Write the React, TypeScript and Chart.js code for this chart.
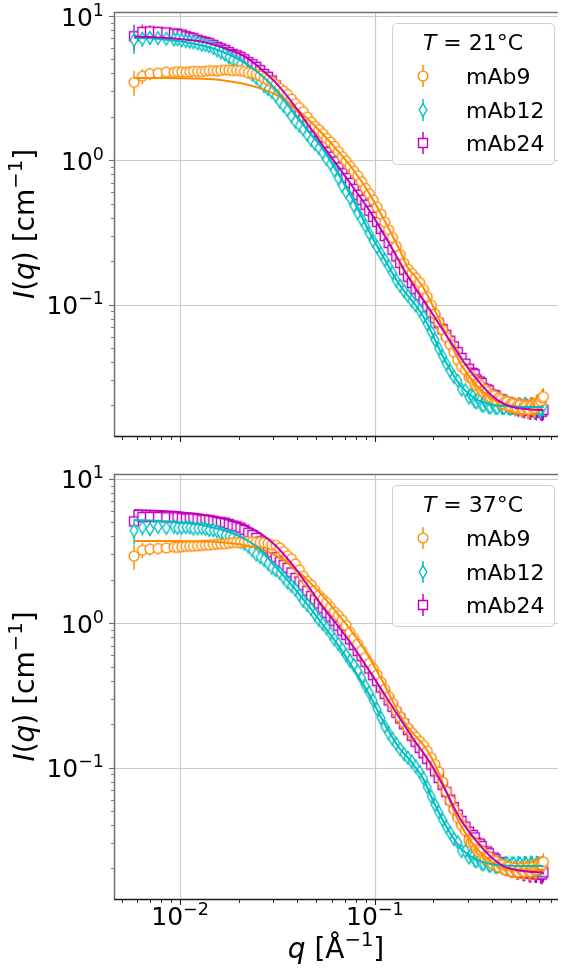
import React, { useEffect, useRef } from 'react';
import { Chart, registerables } from 'chart.js';

Chart.register(...registerables);

// ---------------- data ----------------
// main q grid (A) and interleaved overlap points (B)
const Q = [
  0.0058, 0.0064, 0.007, 0.0077, 0.0085, 0.0093, 0.0102, 0.0112, 0.0123, 0.0135,
  0.0148, 0.0162, 0.0178, 0.0195, 0.0214, 0.0235, 0.0258, 0.0283, 0.031, 0.034,
  0.0373, 0.041, 0.045, 0.0493, 0.054, 0.0592, 0.065, 0.0713, 0.078, 0.0855,
  0.0937, 0.1027, 0.1075, 0.1125, 0.1178, 0.1233, 0.129, 0.135, 0.1413, 0.148,
  0.155, 0.162, 0.17, 0.178, 0.186, 0.195, 0.204, 0.213, 0.223, 0.233,
  0.244, 0.255, 0.267, 0.279, 0.292, 0.305, 0.319, 0.333, 0.347, 0.362,
  0.377, 0.393, 0.409, 0.426, 0.443, 0.461, 0.479, 0.498, 0.517, 0.537,
  0.557, 0.578, 0.599, 0.621, 0.643, 0.666, 0.689, 0.712, 0.735,
];
const Q_B = [
  0.0097, 0.0107, 0.0117, 0.0129, 0.0141, 0.0155, 0.017, 0.0186, 0.0204, 0.0224,
  0.0246, 0.027, 0.0296, 0.0325, 0.0356, 0.0391, 0.0429, 0.0471, 0.0516, 0.0565,
  0.062, 0.0681, 0.0746, 0.0817, 0.0895, 0.0981,
  0.312, 0.326, 0.34, 0.354, 0.369, 0.385, 0.401, 0.417, 0.434, 0.452,
  0.47, 0.488, 0.507, 0.527, 0.547, 0.567, 0.588, 0.61, 0.632, 0.654,
  0.677, 0.70, 0.723,
];

// relative uncertainty of each point
const ERR = [
  0.2, 0.12, 0.1, 0.09, 0.08, 0.07, 0.065, 0.06, 0.055, 0.05,
  0.045, 0.04, 0.035, 0.03, 0.03, 0.025, 0.025, 0.02, 0.02, 0.02,
  0.02, 0.02, 0.02, 0.02, 0.02, 0.02, 0.02, 0.02, 0.02, 0.02,
  0.02, 0.02, 0.02, 0.02, 0.02, 0.02, 0.02, 0.02, 0.02, 0.02,
  0.02, 0.02, 0.02, 0.02, 0.02, 0.02, 0.02, 0.02, 0.02, 0.02,
  0.02, 0.025, 0.03, 0.035, 0.04, 0.045, 0.05, 0.055, 0.06, 0.065,
  0.07, 0.075, 0.08, 0.085, 0.09, 0.095, 0.1, 0.105, 0.11, 0.115,
  0.12, 0.125, 0.13, 0.135, 0.14, 0.14, 0.14, 0.14, 0.15,
];
const ERR_B = [
  0.05, 0.045, 0.04, 0.035, 0.03, 0.03, 0.025, 0.025, 0.02, 0.02,
  0.02, 0.02, 0.02, 0.02, 0.02, 0.02, 0.02, 0.02, 0.02, 0.02,
  0.02, 0.02, 0.02, 0.02, 0.02, 0.02,
  0.048, 0.053, 0.058, 0.063, 0.068, 0.073, 0.078, 0.083, 0.088, 0.093,
  0.098, 0.103, 0.108, 0.113, 0.118, 0.123, 0.128, 0.133, 0.138, 0.14,
  0.14, 0.14, 0.145,
];

// ----- T = 21 C -----
const TOP_MAB9 = [
  3.47, 3.83, 3.98, 4.02, 4.09, 4.07, 4.10, 4.11, 4.13, 4.15,
  4.18, 4.20, 4.22, 4.20, 4.13, 4.01, 3.84, 3.60, 3.34, 3.01,
  2.66, 2.32, 1.99, 1.72, 1.53, 1.34, 1.15, 0.986, 0.84, 0.71,
  0.585, 0.474, 0.423, 0.373, 0.330, 0.291, 0.253, 0.222, 0.193, 0.176,
  0.164, 0.153, 0.142, 0.127, 0.1135, 0.0989, 0.0859, 0.0757, 0.0668, 0.0594,
  0.0528, 0.0468, 0.0413, 0.0372, 0.0352, 0.0314, 0.0302, 0.0276, 0.0275, 0.0248,
  0.0249, 0.0228, 0.0233, 0.0214, 0.0220, 0.0205, 0.0212, 0.0198, 0.0205, 0.0192,
  0.0201, 0.0189, 0.0198, 0.0188, 0.0198, 0.0193, 0.0208, 0.0214, 0.0230,
];
const TOP_MAB9_B = [
  4.12, 4.08, 4.15, 4.12, 4.19, 4.17, 4.24, 4.19, 4.19, 4.05,
  3.95, 3.70, 3.50, 3.15, 2.86, 2.47, 2.17, 1.84, 1.63, 1.42,
  1.25, 1.06, 0.91, 0.78, 0.64, 0.53,
  0.0318, 0.0280, 0.0285, 0.0252, 0.0258, 0.0230, 0.0238, 0.0216, 0.0225, 0.0204,
  0.0215, 0.0197, 0.0208, 0.0191, 0.0203, 0.0187, 0.0200, 0.0186, 0.0201, 0.0190,
  0.0209, 0.0205, 0.0226,
];
const TOP_MAB12 = [
  6.82, 6.95, 7.05, 7.02, 6.97, 6.89, 6.79, 6.64, 6.46, 6.28,
  6.01, 5.61, 5.19, 4.84, 4.43, 3.93, 3.48, 3.12, 2.79, 2.39,
  2.02, 1.74, 1.50, 1.30, 1.13, 0.944, 0.752, 0.603, 0.485, 0.389,
  0.311, 0.251, 0.226, 0.204, 0.184, 0.166, 0.147, 0.135, 0.124, 0.115,
  0.106, 0.0989, 0.0912, 0.0822, 0.0733, 0.0646, 0.0569, 0.0495, 0.0437, 0.0389,
  0.0347, 0.0316, 0.0297, 0.0258, 0.0255, 0.0227, 0.0231, 0.0210, 0.0216, 0.0199,
  0.0208, 0.0194, 0.0205, 0.0192, 0.0204, 0.0192, 0.0204, 0.0191, 0.0203, 0.0191,
  0.0203, 0.0190, 0.0202, 0.0190, 0.0201, 0.0189, 0.0200, 0.0189, 0.0199,
];
const TOP_MAB12_B = [
  6.90, 6.70, 6.58, 6.33, 6.18, 5.78, 5.43, 4.98, 4.66, 4.14,
  3.73, 3.27, 2.98, 2.55, 2.23, 1.85, 1.64, 1.38, 1.22, 1.02,
  0.85, 0.665, 0.548, 0.43, 0.352, 0.276,
  0.0236, 0.0213, 0.0222, 0.0201, 0.0212, 0.0195, 0.0208, 0.0193, 0.0206, 0.0192,
  0.0205, 0.0191, 0.0204, 0.0190, 0.0203, 0.0190, 0.0202, 0.0189, 0.0201, 0.0189,
  0.0200, 0.0188, 0.0199,
];
const TOP_MAB24 = [
  7.24, 7.76, 7.82, 7.76, 7.69, 7.56, 7.43, 7.13, 6.85, 6.61,
  6.31, 5.97, 5.62, 5.35, 5.01, 4.63, 4.21, 3.79, 3.30, 2.84,
  2.44, 2.07, 1.75, 1.476, 1.253, 1.059, 0.891, 0.753, 0.634, 0.532,
  0.447, 0.374, 0.335, 0.299, 0.267, 0.240, 0.216, 0.194, 0.174, 0.156,
  0.141, 0.128, 0.116, 0.106, 0.0966, 0.0881, 0.0804, 0.0741, 0.0676, 0.0617,
  0.0562, 0.0513, 0.0468, 0.0427, 0.0389, 0.0359, 0.0336, 0.0303, 0.0293, 0.0263,
  0.0258, 0.0239, 0.0236, 0.0220, 0.0220, 0.0207, 0.0209, 0.0197, 0.0201, 0.0191,
  0.0196, 0.0187, 0.0194, 0.0185, 0.0192, 0.0184, 0.0190, 0.0183, 0.0186,
];
const TOP_MAB24_B = [
  7.52, 7.25, 7.02, 6.70, 6.49, 6.11, 5.82, 5.45, 5.21, 4.79,
  4.44, 3.96, 3.57, 3.03, 2.66, 2.22, 1.92, 1.59, 1.37, 1.14,
  0.98, 0.812, 0.697, 0.576, 0.492, 0.405,
  0.0335, 0.0329, 0.0290, 0.0286, 0.0254, 0.0255, 0.0231, 0.0234, 0.0214, 0.0219,
  0.0201, 0.0209, 0.0193, 0.0202, 0.0188, 0.0198, 0.0186, 0.0195, 0.0184, 0.0193,
  0.0183, 0.0191, 0.0181,
];

// ----- T = 37 C -----
const BOT_MAB9 = [
  2.92, 3.21, 3.27, 3.30, 3.33, 3.37, 3.39, 3.42, 3.44, 3.48,
  3.52, 3.55, 3.59, 3.63, 3.66, 3.67, 3.65, 3.57, 3.47, 3.14,
  2.80, 2.34, 1.95, 1.69, 1.47, 1.29, 1.13, 0.966, 0.785, 0.646,
  0.528, 0.439, 0.391, 0.348, 0.310, 0.279, 0.248, 0.224, 0.204, 0.187,
  0.174, 0.163, 0.152, 0.142, 0.130, 0.117, 0.105, 0.0933, 0.0794, 0.0684,
  0.0589, 0.0513, 0.0447, 0.0398, 0.0366, 0.0314, 0.0308, 0.0272, 0.0271, 0.0240,
  0.0244, 0.0222, 0.0228, 0.0208, 0.0215, 0.0198, 0.0207, 0.0192, 0.0202, 0.0189,
  0.0201, 0.0190, 0.0202, 0.0191, 0.0204, 0.0194, 0.0210, 0.0211, 0.0222,
];
const BOT_MAB9_B = [
  3.36, 3.41, 3.42, 3.47, 3.49, 3.54, 3.56, 3.62, 3.63, 3.67,
  3.65, 3.62, 3.50, 3.32, 2.94, 2.58, 2.12, 1.84, 1.56, 1.39,
  1.20, 1.05, 0.865, 0.716, 0.58, 0.485,
  0.0302, 0.0299, 0.0262, 0.0263, 0.0234, 0.0240, 0.0217, 0.0224, 0.0204, 0.0212,
  0.0196, 0.0205, 0.0191, 0.0201, 0.0189, 0.0201, 0.0190, 0.0202, 0.0191, 0.0205,
  0.0196, 0.0213, 0.0211,
];
const BOT_MAB12 = [
  4.39, 4.62, 4.50, 4.66, 4.58, 4.68, 4.61, 4.62, 4.55, 4.52,
  4.42, 4.22, 4.03, 3.84, 3.57, 3.20, 2.87, 2.59, 2.34, 2.07,
  1.82, 1.57, 1.34, 1.15, 0.993, 0.851, 0.719, 0.603, 0.513, 0.417,
  0.331, 0.254, 0.221, 0.193, 0.173, 0.158, 0.146, 0.134, 0.124, 0.117,
  0.110, 0.102, 0.0933, 0.0843, 0.0733, 0.0631, 0.0552, 0.0490, 0.0434, 0.0389,
  0.0351, 0.0320, 0.0304, 0.0264, 0.0264, 0.0238, 0.0244, 0.0224, 0.0233, 0.0214,
  0.0225, 0.0209, 0.0219, 0.0205, 0.0217, 0.0203, 0.0216, 0.0203, 0.0216, 0.0202,
  0.0215, 0.0202, 0.0215, 0.0202, 0.0215, 0.0202, 0.0214, 0.0202, 0.0213,
];
const BOT_MAB12_B = [
  4.58, 4.64, 4.53, 4.57, 4.44, 4.35, 4.09, 3.96, 3.67, 3.41,
  3.00, 2.76, 2.43, 2.23, 1.92, 1.71, 1.43, 1.25, 1.06, 0.925,
  0.775, 0.662, 0.55, 0.467, 0.368, 0.292,
  0.0248, 0.0227, 0.0236, 0.0216, 0.0227, 0.0210, 0.0222, 0.0205, 0.0219, 0.0203,
  0.0218, 0.0202, 0.0217, 0.0201, 0.0217, 0.0201, 0.0216, 0.0201, 0.0216, 0.0201,
  0.0215, 0.0201, 0.0214,
];
const BOT_MAB24 = [
  5.08, 5.45, 5.46, 5.45, 5.43, 5.41, 5.37, 5.33, 5.28, 5.22,
  5.13, 5.01, 4.88, 4.70, 4.45, 4.09, 3.69, 3.30, 2.87, 2.54,
  2.25, 1.95, 1.68, 1.46, 1.27, 1.11, 0.962, 0.832, 0.708, 0.592,
  0.486, 0.398, 0.359, 0.324, 0.292, 0.264, 0.240, 0.219, 0.200, 0.182,
  0.166, 0.151, 0.137, 0.126, 0.115, 0.105, 0.0942, 0.0847, 0.0759, 0.0676,
  0.0600, 0.0532, 0.0472, 0.0427, 0.0389, 0.0359, 0.0341, 0.0300, 0.0297, 0.0261,
  0.0262, 0.0235, 0.0238, 0.0214, 0.0221, 0.0203, 0.0210, 0.0194, 0.0203, 0.0189,
  0.0200, 0.0186, 0.0197, 0.0185, 0.0196, 0.0184, 0.0195, 0.0182, 0.0188,
];
const BOT_MAB24_B = [
  5.44, 5.32, 5.33, 5.22, 5.20, 5.04, 4.98, 4.76, 4.60, 4.24,
  3.91, 3.46, 3.11, 2.67, 2.42, 2.06, 1.83, 1.55, 1.37, 1.18,
  1.04, 0.889, 0.774, 0.642, 0.541, 0.437,
  0.0336, 0.0328, 0.0290, 0.0286, 0.0254, 0.0255, 0.0230, 0.0232, 0.0213, 0.0218,
  0.0201, 0.0208, 0.0193, 0.0201, 0.0189, 0.0198, 0.0186, 0.0196, 0.0185, 0.0195,
  0.0184, 0.0193, 0.0182,
];

// ----- model fits -----
const Q_FIT = [
  0.0058, 0.007, 0.0085, 0.0102, 0.0123, 0.0148, 0.0178, 0.0214, 0.0258, 0.031,
  0.0373, 0.045, 0.054, 0.065, 0.078, 0.0937, 0.1125, 0.135, 0.148, 0.162,
  0.178, 0.195, 0.213, 0.233, 0.255, 0.279, 0.333, 0.393, 0.461, 0.537,
  0.621, 0.712, 0.735,
];
const TOP_FIT_MAB9 = [
  3.72, 3.72, 3.72, 3.71, 3.69, 3.64, 3.53, 3.38, 3.15, 2.85,
  2.42, 1.95, 1.52, 1.15, 0.85, 0.59, 0.38, 0.235, 0.18, 0.155,
  0.13, 0.103, 0.08, 0.062, 0.048, 0.038, 0.0275, 0.0228, 0.0205, 0.0195,
  0.0193, 0.0196, 0.0198,
];
const TOP_FIT_MAB12 = [
  7.05, 7.0, 6.85, 6.65, 6.35, 5.95, 5.4, 4.75, 3.95, 3.1,
  2.25, 1.62, 1.2, 0.8, 0.52, 0.32, 0.205, 0.135, 0.115, 0.099,
  0.082, 0.065, 0.05, 0.0395, 0.032, 0.027, 0.022, 0.0204, 0.0198, 0.0196,
  0.0195, 0.0195, 0.0195,
];
const TOP_FIT_MAB24 = [
  7.2, 7.15, 7.05, 6.9, 6.7, 6.35, 5.85, 5.25, 4.35, 3.45,
  2.55, 1.8, 1.27, 0.9, 0.64, 0.45, 0.30, 0.195, 0.157, 0.129,
  0.107, 0.089, 0.074, 0.061, 0.051, 0.042, 0.0305, 0.0238, 0.0205, 0.0192,
  0.0188, 0.0186, 0.0186,
];
const BOT_FIT_MAB9 = [
  3.72, 3.72, 3.72, 3.71, 3.7, 3.67, 3.6, 3.48, 3.27, 2.95,
  2.5, 2.0, 1.55, 1.15, 0.84, 0.58, 0.37, 0.23, 0.19, 0.165,
  0.143, 0.118, 0.092, 0.068, 0.05, 0.039, 0.0275, 0.0225, 0.0202, 0.0194,
  0.0193, 0.0196, 0.0198,
];
const BOT_FIT_MAB12 = [
  5.2, 5.15, 5.08, 4.98, 4.85, 4.6, 4.3, 3.85, 3.25, 2.45,
  1.85, 1.35, 0.98, 0.7, 0.48, 0.32, 0.2, 0.134, 0.117, 0.1,
  0.083, 0.063, 0.049, 0.039, 0.032, 0.0272, 0.0231, 0.0215, 0.021, 0.0208,
  0.0208, 0.0208, 0.0208,
];
const BOT_FIT_MAB24 = [
  6.1, 6.05, 5.97, 5.87, 5.72, 5.5, 5.2, 4.78, 4.2, 3.45,
  2.6, 1.85, 1.3, 0.95, 0.68, 0.47, 0.32, 0.218, 0.18, 0.15,
  0.126, 0.105, 0.085, 0.068, 0.053, 0.0427, 0.0309, 0.0242, 0.0207, 0.0195,
  0.019, 0.0188, 0.0186,
];

const SERIES_NAMES = ['mAb9', 'mAb12', 'mAb24'];
const SERIES_COLORS = ['#ff8c00', '#00bfbf', '#bf00bf'];
const SERIES_MARKERS = ['o', 'd', 's'];
const TEMPERATURES = ['21', '37'];
const X_MAJOR = [0.01, 0.1];
const X_MAJOR_EXP = ['\u22122', '\u22121'];
const Y_MAJOR = [0.1, 1, 10];
const Y_MAJOR_EXP = ['\u22121', '0', '1'];

// ---------------- drawing helpers ----------------
const FONT = "'DejaVu Sans', sans-serif";
type Part = { t: string; s: number; it?: boolean; up?: number };

function fontOf(p: Part) {
  return `${p.it ? 'italic ' : ''}${p.s}px ${FONT}`;
}
function partsWidth(ctx: CanvasRenderingContext2D, parts: Part[]) {
  let w = 0;
  for (const p of parts) {
    ctx.font = fontOf(p);
    w += ctx.measureText(p.t).width;
  }
  return w;
}
function drawParts(ctx: CanvasRenderingContext2D, parts: Part[], x: number, y: number) {
  let cx = x;
  ctx.textAlign = 'left';
  ctx.textBaseline = 'alphabetic';
  for (const p of parts) {
    ctx.font = fontOf(p);
    ctx.fillText(p.t, cx, y - (p.up || 0));
    cx += ctx.measureText(p.t).width;
  }
}
function powParts(exp: string): Part[] {
  return [
    { t: '10', s: 25 },
    { t: exp, s: 17.5, up: 10 },
  ];
}

function makeMarker(kind: string, color: string) {
  const c = document.createElement('canvas');
  c.width = 16;
  c.height = 16;
  const g = c.getContext('2d')!;
  g.lineWidth = 1.4;
  g.strokeStyle = color;
  g.fillStyle = '#ffffff';
  g.beginPath();
  if (kind === 'o') {
    g.arc(8, 8, 4.9, 0, Math.PI * 2);
  } else if (kind === 's') {
    g.rect(3.5, 3.5, 9, 9);
  } else {
    g.moveTo(8, 1.6);
    g.lineTo(11.8, 8);
    g.lineTo(8, 14.4);
    g.lineTo(4.2, 8);
    g.closePath();
  }
  g.fill();
  g.stroke();
  return c;
}

function logTicks(min: number, max: number) {
  const out: { v: number; major: boolean }[] = [];
  for (let e = Math.floor(Math.log10(min)); e <= Math.ceil(Math.log10(max)); e++) {
    for (let m = 1; m < 10; m++) {
      const v = m * Math.pow(10, e);
      if (v >= min && v <= max) out.push({ v, major: m === 1 });
    }
  }
  return out;
}

const X_MIN = 0.004575;
const X_MAX = 0.8733;

type PanelCfg = {
  top: number;
  height: number;
  pad: { left: number; top: number; right: number; bottom: number };
  yMin: number;
  yMax: number;
  temp: string;
  data: number[][];
  dataB: number[][];
  fits: number[][];
  xLabels: boolean;
};

const PANELS: PanelCfg[] = [
  {
    top: 0,
    height: 460,
    pad: { left: 114, top: 12, right: 0, bottom: 24 },
    yMin: 0.01228,
    yMax: 10.66,
    temp: TEMPERATURES[0],
    data: [TOP_MAB9, TOP_MAB12, TOP_MAB24],
    dataB: [TOP_MAB9_B, TOP_MAB12_B, TOP_MAB24_B],
    fits: [TOP_FIT_MAB9, TOP_FIT_MAB12, TOP_FIT_MAB24],
    xLabels: false,
  },
  {
    top: 460,
    height: 511,
    pad: { left: 114, top: 14, right: 0, bottom: 72 },
    yMin: 0.01228,
    yMax: 10.83,
    temp: TEMPERATURES[1],
    data: [BOT_MAB9, BOT_MAB12, BOT_MAB24],
    dataB: [BOT_MAB9_B, BOT_MAB12_B, BOT_MAB24_B],
    fits: [BOT_FIT_MAB9, BOT_FIT_MAB12, BOT_FIT_MAB24],
    xLabels: true,
  },
];

function Panel({ cfg }: { cfg: PanelCfg }) {
  const ref = useRef<HTMLCanvasElement>(null);

  useEffect(() => {
    const canvas = ref.current;
    if (!canvas) return;
    const markers = SERIES_MARKERS.map((k, i) => makeMarker(k, SERIES_COLORS[i]));

    const fitSets = [2, 1, 0].map((i) => ({
      label: SERIES_NAMES[i] + ' fit',
      data: Q_FIT.map((q, j) => ({ x: q, y: cfg.fits[i][j] })),
      showLine: true,
      borderColor: SERIES_COLORS[i],
      backgroundColor: SERIES_COLORS[i],
      borderWidth: 2,
      pointRadius: 0,
      cubicInterpolationMode: 'monotone',
      fill: false,
      order: 0,
    }));
    const dataSets = [0, 1, 2].map((i) => {
      const pts = [
        ...Q.map((q, j) => ({ x: q, y: cfg.data[i][j], e: ERR[j] })),
        ...Q_B.map((q, j) => ({ x: q, y: cfg.dataB[i][j], e: ERR_B[j] })),
      ].sort((a, b) => a.x - b.x);
      return {
        label: SERIES_NAMES[i],
        data: pts,
        showLine: false,
        borderColor: SERIES_COLORS[i],
        backgroundColor: '#ffffff',
        pointStyle: markers[i],
        pointRadius: 5,
        withErr: true,
        order: i + 1,
      };
    });

    const axesPlugin = {
      id: 'mplAxes',
      beforeDatasetsDraw(chart: any) {
        const { ctx, chartArea: ca } = chart;
        const xs = chart.scales.x;
        const ys = chart.scales.y;
        ctx.save();
        ctx.strokeStyle = '#cbcbcb';
        ctx.lineWidth = 1.2;
        ctx.beginPath();
        for (const v of X_MAJOR) {
          const px = Math.round(xs.getPixelForValue(v)) + 0.5;
          ctx.moveTo(px, ca.top);
          ctx.lineTo(px, ca.bottom);
        }
        for (const v of Y_MAJOR) {
          const py = Math.round(ys.getPixelForValue(v)) + 0.5;
          ctx.moveTo(ca.left, py);
          ctx.lineTo(ca.right, py);
        }
        ctx.stroke();
        ctx.restore();
      },
      beforeDatasetDraw(chart: any, args: any) {
        const ds = chart.data.datasets[args.index];
        if (!ds.withErr) return;
        const { ctx } = chart;
        const ys = chart.scales.y;
        ctx.save();
        ctx.strokeStyle = ds.borderColor;
        ctx.lineWidth = 1.4;
        ctx.beginPath();
        args.meta.data.forEach((pt: any, i: number) => {
          const d = ds.data[i];
          const e = d.y * d.e;
          ctx.moveTo(pt.x, ys.getPixelForValue(d.y + e));
          ctx.lineTo(pt.x, ys.getPixelForValue(d.y - e));
        });
        ctx.stroke();
        ctx.restore();
      },
      afterDraw(chart: any) {
        const { ctx, chartArea: ca } = chart;
        const xs = chart.scales.x;
        const ys = chart.scales.y;
        ctx.save();
        // spines
        ctx.lineWidth = 1.5;
        ctx.strokeStyle = '#707070';
        ctx.beginPath();
        ctx.moveTo(ca.left, ca.top + 0.5);
        ctx.lineTo(ca.right, ca.top + 0.5);
        ctx.moveTo(ca.left + 0.5, ca.top);
        ctx.lineTo(ca.left + 0.5, ca.bottom);
        ctx.stroke();
        ctx.strokeStyle = '#1a1a1a';
        ctx.beginPath();
        ctx.moveTo(ca.left, ca.bottom + 0.5);
        ctx.lineTo(ca.right, ca.bottom + 0.5);
        ctx.stroke();

        // y ticks
        ctx.strokeStyle = '#707070';
        for (const t of logTicks(cfg.yMin, cfg.yMax)) {
          const py = Math.round(ys.getPixelForValue(t.v)) + 0.5;
          ctx.lineWidth = t.major ? 1.1 : 0.9;
          ctx.beginPath();
          ctx.moveTo(ca.left, py);
          ctx.lineTo(ca.left - (t.major ? 5 : 3), py);
          ctx.stroke();
        }
        // x ticks
        ctx.strokeStyle = '#1a1a1a';
        for (const t of logTicks(X_MIN, X_MAX)) {
          const px = Math.round(xs.getPixelForValue(t.v)) + 0.5;
          ctx.lineWidth = t.major ? 1.1 : 0.9;
          ctx.beginPath();
          ctx.moveTo(px, ca.bottom + 1);
          ctx.lineTo(px, ca.bottom + 1 + (t.major ? 5 : 3));
          ctx.stroke();
        }

        ctx.fillStyle = '#000000';
        // y tick labels
        Y_MAJOR.forEach((v, i) => {
          const py = ys.getPixelForValue(v);
          const parts = powParts(Y_MAJOR_EXP[i]);
          const w = partsWidth(ctx, parts);
          drawParts(ctx, parts, ca.left - 10 - w, py + 9.5);
        });
        // x tick labels and axis title
        if (cfg.xLabels) {
          X_MAJOR.forEach((v, i) => {
            const px = xs.getPixelForValue(v);
            const parts = powParts(X_MAJOR_EXP[i]);
            const w = partsWidth(ctx, parts);
            drawParts(ctx, parts, px - w / 2, ca.bottom + 26);
          });
          const xl: Part[] = [
            { t: 'q', s: 28, it: true },
            { t: ' [\u00c5', s: 28 },
            { t: '\u22121', s: 19.6, up: 12 },
            { t: ']', s: 28 },
          ];
          const w = partsWidth(ctx, xl);
          drawParts(ctx, xl, (ca.left + ca.right) / 2 - w / 2, ca.bottom + 59);
        }
        // y axis title
        const yl: Part[] = [
          { t: 'I', s: 28, it: true },
          { t: '(', s: 28 },
          { t: 'q', s: 28, it: true },
          { t: ')', s: 28 },
          { t: ' [cm', s: 28 },
          { t: '\u22121', s: 19.6, up: 12 },
          { t: ']', s: 28 },
        ];
        const ylw = partsWidth(ctx, yl);
        ctx.save();
        ctx.translate(34, (ca.top + ca.bottom) / 2);
        ctx.rotate(-Math.PI / 2);
        drawParts(ctx, yl, -ylw / 2, 0);
        ctx.restore();

        // legend
        const bx = 392.5;
        const by = ca.top + 11.5;
        const bw = 162;
        const bh = 141;
        const r = 4;
        ctx.beginPath();
        ctx.moveTo(bx + r, by);
        ctx.lineTo(bx + bw - r, by);
        ctx.arcTo(bx + bw, by, bx + bw, by + r, r);
        ctx.lineTo(bx + bw, by + bh - r);
        ctx.arcTo(bx + bw, by + bh, bx + bw - r, by + bh, r);
        ctx.lineTo(bx + r, by + bh);
        ctx.arcTo(bx, by + bh, bx, by + bh - r, r);
        ctx.lineTo(bx, by + r);
        ctx.arcTo(bx, by, bx + r, by, r);
        ctx.closePath();
        ctx.fillStyle = 'rgba(255,255,255,0.8)';
        ctx.fill();
        ctx.strokeStyle = '#d0d0d0';
        ctx.lineWidth = 1;
        ctx.stroke();

        ctx.fillStyle = '#000000';
        const title: Part[] = [
          { t: 'T', s: 22, it: true },
          { t: ' = ' + cfg.temp + '\u00b0C', s: 22 },
        ];
        const tw = partsWidth(ctx, title);
        drawParts(ctx, title, 473 - tw / 2, ca.top + 38);

        const rows = [64, 98, 131];
        SERIES_NAMES.forEach((name, i) => {
          const cy = ca.top + rows[i];
          ctx.strokeStyle = SERIES_COLORS[i];
          ctx.lineWidth = 1.5;
          ctx.beginPath();
          ctx.moveTo(423, cy - 11);
          ctx.lineTo(423, cy + 11);
          ctx.stroke();
          ctx.drawImage(markers[i], 423 - 8, cy - 8);
          ctx.fillStyle = '#000000';
          drawParts(ctx, [{ t: name, s: 22 }], 466, cy + 8);
        });
        ctx.restore();
      },
    };

    const chart = new Chart(canvas, {
      type: 'scatter',
      data: { datasets: [...fitSets, ...dataSets] as any },
      options: {
        responsive: false,
        animation: false,
        devicePixelRatio: 1,
        events: [],
        layout: { padding: cfg.pad },
        plugins: { legend: { display: false }, tooltip: { enabled: false } },
        scales: {
          x: { type: 'logarithmic', min: X_MIN, max: X_MAX, display: false },
          y: { type: 'logarithmic', min: cfg.yMin, max: cfg.yMax, display: false },
        },
      } as any,
      plugins: [axesPlugin as any],
    });
    return () => chart.destroy();
  }, [cfg]);

  return (
    <canvas
      ref={ref}
      width={564}
      height={cfg.height}
      style={{ position: 'absolute', left: 0, top: cfg.top, display: 'block' }}
    />
  );
}

export default function App() {
  return (
    <div
      style={{
        position: 'absolute',
        left: 0,
        top: 0,
        width: 564,
        height: 971,
        overflow: 'hidden',
        background: '#ffffff',
      }}
    >
      {PANELS.map((p, i) => (
        <Panel key={i} cfg={p} />
      ))}
    </div>
  );
}
